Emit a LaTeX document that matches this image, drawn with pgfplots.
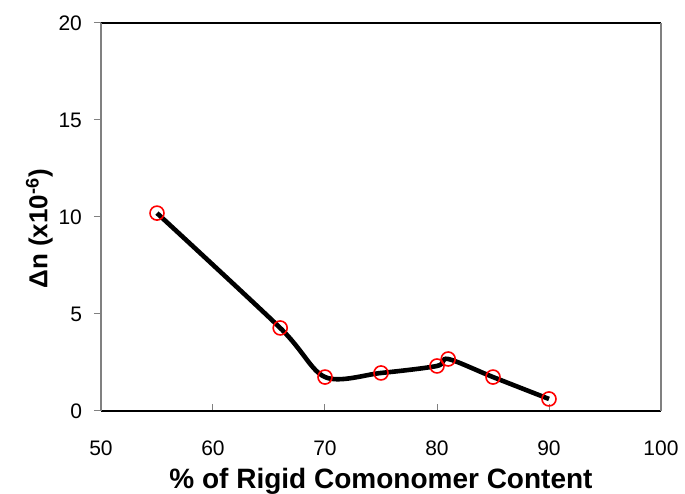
\documentclass[border=0pt]{standalone}
\usepackage{fontspec}
\setmainfont{Liberation Sans}
\usepackage{pgfplots}
\pgfplotsset{compat=1.18}
\begin{document}
\begin{tikzpicture}
\begin{axis}[
  scale only axis, width=280pt, height=194pt,
  xmin=50, xmax=100, ymin=0, ymax=20,
  xtick={50,60,...,100}, ytick={0,5,...,20},
  separate axis lines,
  x axis line style={black, line width=0.6pt},
  y axis line style={gray, line width=0.6pt},
  xtick pos=bottom, ytick pos=left,
  xtick align=inside, ytick align=outside,
  major tick length=3.5pt,
  tick style={gray, line width=0.5pt},
  tick label style={font=\fontsize{10.5}{12}\selectfont},
  /pgf/number format/assume math mode=true,
  xticklabel style={yshift=-11.5pt},
  yticklabel style={xshift=-2.5pt},
  xlabel={\textbf{\% of Rigid Comonomer Content}},
  ylabel={\textbf{Δn (x10\textsuperscript{-6})}},
  xlabel style={font=\fontsize{14}{15}\selectfont, yshift=0.5pt},
  ylabel style={font=\fontsize{13}{15}\selectfont, at={(ticklabel cs:0.47)}, yshift=-4pt},
]
\addplot[black, line width=2.3pt, smooth, tension=0.5] coordinates {
(55,10.2) (66,4.28) (70,1.75) (75,1.96) (80,2.32) (81,2.68) (85,1.75) (90,0.62)};
\addplot[only marks, mark=o, red, mark size=3.5pt, line width=0.8pt] coordinates {
(55,10.2) (66,4.28) (70,1.75) (75,1.96) (80,2.32) (81,2.68) (85,1.75) (90,0.62)};
\end{axis}
% page frame as in the reference
\pgfresetboundingbox
\path ([xshift=-50.5pt,yshift=-41.5pt]current axis.south west) rectangle ([xshift=12pt,yshift=11.5pt]current axis.north east);
\end{tikzpicture}
\end{document}
